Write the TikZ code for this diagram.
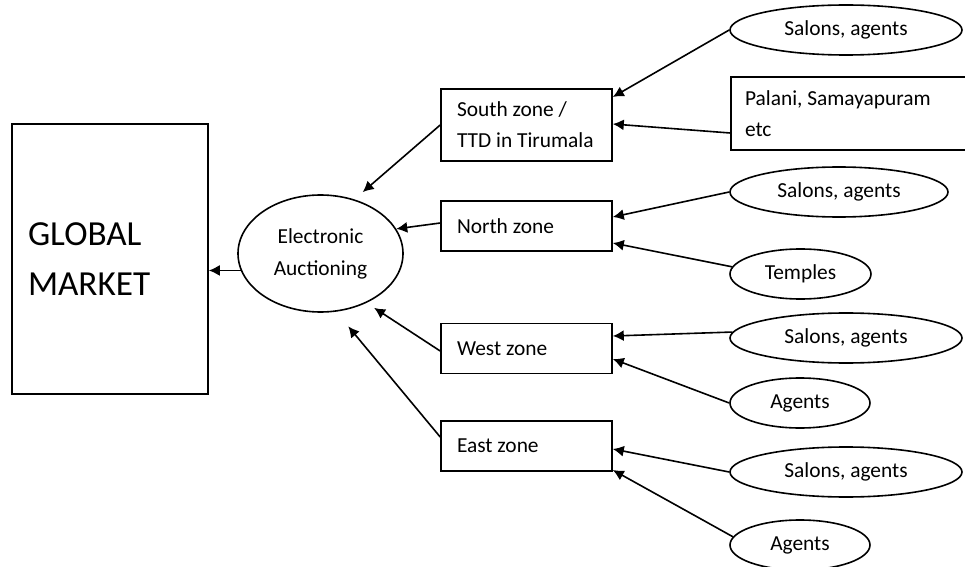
\documentclass[tikz,border=0pt]{standalone}
\usepackage{fontspec}
\setmainfont{Carlito}
\usetikzlibrary{shapes.geometric, arrows.meta}
\tikzstyle{market} = [rectangle, draw=black, line width=0.8pt, minimum height=135pt, inner xsep=8pt, text width=82pt, align=flush left, font=\fontsize{17.6}{25}\selectfont]
\tikzstyle{hub} = [ellipse, draw=black, line width=0.8pt, minimum width=82.5pt, minimum height=58.5pt, inner sep=0pt, align=flush center, font=\fontsize{10.7}{16}\selectfont]
\tikzstyle{zone} = [rectangle, draw=black, line width=0.8pt, minimum height=25pt, inner xsep=8pt, text width=69.5pt, align=flush left, font=\fontsize{10.7}{15.5}\selectfont]
\tikzstyle{sitebox} = [rectangle, draw=black, line width=0.8pt, minimum height=36.5pt, inner xsep=7pt, text width=110.5pt, align=flush left, font=\fontsize{10.7}{15.5}\selectfont]
\tikzstyle{source} = [ellipse, draw=black, line width=0.8pt, minimum height=25pt, inner sep=0pt, font=\fontsize{10.7}{15.5}\selectfont]
\tikzstyle{arrow} = [line width=0.8pt, -{Latex[length=5.5pt, width=5.5pt]}]
\begin{document}
\begin{tikzpicture}[x=0.5pt, y=-0.5pt]
\clip (0,0) rectangle (965,567);
\node (global) [market] at (110,259) {GLOBAL\\MARKET};
\node (auction) [hub] at (320.5,253.5) {Electronic\\Auctioning};
\node (south) [zone, minimum height=36pt] at (526.5,125) {South zone /\\TTD in Tirumala};
\node (north) [zone] at (526.5,226) {North zone};
\node (west) [zone] at (526.5,348.5) {West zone};
\node (east) [zone] at (526.5,446) {East zone};
\node (sal1) [source, minimum width=116pt] at (846,30) {Salons, agents};
\node (palani) [sitebox] at (855.5,113.5) {Palani, Samayapuram\\etc};
\node (sal2) [source, minimum width=109pt] at (839,192) {Salons, agents};
\node (temp1) [source, minimum width=70.5pt] at (800.5,274) {Temples};
\node (sal3) [source, minimum width=116pt] at (846,338) {Salons, agents};
\node (agt1) [source, minimum width=70pt] at (800,403) {Agents};
\node (sal4) [source, minimum width=116pt] at (846,472) {Salons, agents};
\node (agt2) [source, minimum width=70pt] at (800,545) {Agents};
\draw [arrow] (auction.192) -- (auction.192 -| global.east);
\draw [arrow, shorten >=5.5pt] (south.west) -- (auction.58);
\draw [arrow] ([yshift=1.5pt]north.west) -- (auction.18);
\draw [arrow, shorten >=4.5pt] ([yshift=-1.25pt]west.west) -- (auction.-47);
\draw [arrow, shorten >=9.5pt] ([yshift=4.5pt]east.west) -- (auction.-75);
\draw [arrow] (sal1.west) -- ([yshift=14pt]south.east);
\draw [arrow] ([yshift=-9.75pt]palani.west) -- ([yshift=0.5pt]south.east);
\draw [arrow] (sal2.west) -- ([yshift=4.5pt]north.east);
\draw [arrow] (temp1.174) -- ([yshift=-8.5pt]north.east);
\draw [arrow] (sal3.177) -- ([yshift=6.25pt]west.east);
\draw [arrow] (agt1.west) -- ([yshift=-5.25pt]west.east);
\draw [arrow] (sal4.west) -- ([yshift=-1.5pt]east.east);
\draw [arrow] (agt2.173) -- ([yshift=-12pt]east.east);
\end{tikzpicture}
\end{document}
